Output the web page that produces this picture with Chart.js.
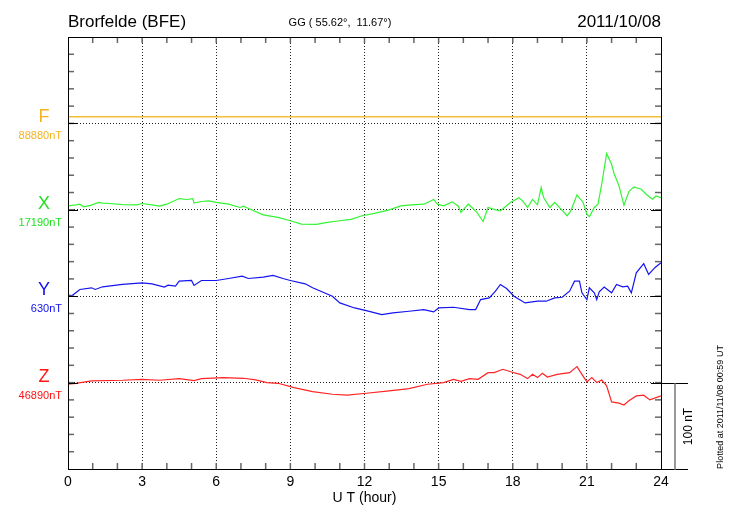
<!DOCTYPE html>
<html>
<head>
<meta charset="utf-8">
<script src="https://cdn.jsdelivr.net/npm/chart.js@4/dist/chart.umd.min.js"></script>
<style>
  html, body { margin: 0; padding: 0; background: #fff; }
</style>
</head>
<body>
<canvas id="chart" width="730" height="520"></canvas>
<script>
// 성분 이름, 기준값, 그래프 위 기준선 위치(nT, 100 nT 간격)
const components = ['F', 'X', 'Y', 'Z'];
const baseLabels = ['88880nT', '17190nT', '630nT', '46890nT'];
const baseLevels = [400, 300, 200, 100];
const hourTicks = [0, 3, 6, 9, 12, 15, 18, 21, 24];

// 기준값에서의 편차 (nT)
const fHours = [0, 24];
const fNt = [7.8, 7.8];

const xHours = [0, 0.33, 0.48, 0.63, 0.94, 1.25, 1.4, 1.7, 2.2, 2.8, 3, 3.4, 3.7, 4.0, 4.5, 4.8, 5.05, 5.1, 5.4, 5.7,
  6, 6.5, 6.96, 7.1, 7.4, 7.9, 8.5, 9, 9.45, 10.06, 10.5, 11, 11.45, 11.9, 12.4, 13, 13.46, 13.9, 14.4, 14.8,
  14.95, 15.2, 15.55, 15.8, 15.9, 16.2, 16.35, 16.55, 16.8, 17, 17.35, 17.5, 17.9, 18.25, 18.4, 18.6, 18.8, 19, 19.15, 19.25,
  19.5, 19.7, 19.95, 20.2, 20.35, 20.6, 20.85, 21, 21.1, 21.3, 21.45, 21.6, 21.8, 22, 22.1, 22.3, 22.5, 22.7, 22.9, 23.2,
  23.4, 23.65, 23.8, 24];
const xNt = [4.6, 5.8, 6.5, 3.5, 5.4, 8.5, 7.7, 7.3, 6, 5.8, 7.3, 5.8, 4.2, 6.5, 13, 11.9, 13, 7.7, 9.6, 10.4,
  8.5, 6.5, 2.7, 4.2, 0.4, -5.8, -8.8, -12.7, -16.5, -16.9, -14.6, -12.7, -11, -6.9, -4.2, 0, 4.6, 5.8, 6.5, 12,
  6.5, 4.6, 9.2, 4.2, -3, 6.5, 2.7, -3, -13.5, 2.7, -0.4, -1.2, 8.5, 14, 10.4, 2.7, 12, 5.8, 25.8, 14.2,
  2.7, 8.5, 0.8, -6.9, -1.2, 17.3, 8.5, -5, -8, 2.7, 6.5, 29.6, 65, 52.7, 42, 27.7, 5.4, 21, 26.5, 23.8,
  18, 12.3, 16, 14];

const yHours = [0, 0.17, 0.48, 0.95, 1.1, 1.4, 2.2, 3, 3.4, 3.9, 4.05, 4.35, 4.5, 5, 5.1, 5.4, 6, 6.5, 7.05, 7.3,
  7.9, 8.3, 8.7, 9, 9.6, 9.9, 10.7, 11, 11.6, 12.07, 12.7, 13.15, 13.8, 14.4, 14.8, 15, 15.6, 16.25, 16.5, 16.7,
  17.05, 17.3, 17.5, 17.75, 18.05, 18.5, 19, 19.35, 19.7, 20, 20.3, 20.5, 20.7, 20.8, 21, 21.1, 21.3, 21.4, 21.5, 21.7,
  22, 22.2, 22.45, 22.65, 22.8, 23, 23.3, 23.5, 23.75, 24];
const yNt = [1.2, 0.8, 7.8, 9.7, 7.8, 10.9, 13.6, 15.5, 14.3, 10.5, 12.8, 11.6, 17.4, 18.2, 12.4, 18.2, 18.2, 20.5, 23.3, 20.5,
  22, 24, 20.5, 18.2, 14.3, 9.7, 0, -7.8, -13.6, -16.7, -21.3, -19.4, -17.4, -15.5, -18.2, -13.6, -12.8, -15.5, -15.5, -3.9,
  -1.9, 5.8, 13.6, 8.9, 0, -7.8, -5.8, -5.8, -1.9, -1.2, 5.8, 17.4, 17.4, 3.9, -3.9, 9.7, 3.9, -3.9, 5, 10.5,
  3.9, 13.6, 10.9, 11.6, 3.9, 27, 37.6, 25.2, 33, 38.8];

const zHours = [0, 0.32, 0.95, 2.2, 3, 3.7, 4.5, 5.1, 5.4, 6.3, 7.1, 7.6, 8.05, 8.5, 9.15, 9.9, 10.7, 11.3, 12.07, 13,
  13.8, 14.55, 15.2, 15.6, 15.9, 16.25, 16.6, 17, 17.25, 17.6, 17.95, 18.3, 18.6, 18.8, 19, 19.2, 19.4, 19.8, 20.3, 20.6,
  20.8, 21, 21.2, 21.4, 21.6, 21.8, 22, 22.3, 22.5, 22.7, 23, 23.3, 23.55, 24];
const zNt = [-1.9, -0.8, 1.9, 2.7, 3.8, 2.7, 4.6, 2.3, 4.6, 5.8, 5, 3.1, 0, -0.8, -5.8, -10.4, -13.5, -14.6, -12.3, -9.6,
  -6.9, -1.9, 0, 3.8, 1.5, 4.6, 3.8, 11.5, 11.5, 15.4, 12.3, 9.6, 4.6, 9.6, 5.8, 10.8, 6.5, 9.6, 11.5, 18.5,
  9.6, 0.8, 5.8, 0, 3, -3.8, -22.3, -23.8, -26, -21, -15.4, -14.6, -20, -15.4];

const lineColors = ['#F3BE3A', '#33F533', '#1414F0', '#FF2424'];
const textColors = ['#F5B21E', '#22E022', '#1010F0', '#FF1414'];
const FONT = '"Liberation Sans", Arial, Helvetica, sans-serif';

function toPoints(hours, nt, base) {
  return hours.map((h, i) => ({ x: h, y: base + nt[i] }));
}

// 테두리, 눈금, 글자
const framePlugin = {
  id: 'frame',
  afterDraw(chart) {
    const { ctx, chartArea: a, scales: { x, y } } = chart;
    ctx.save();
    const seg = (x1, y1, x2, y2) => { ctx.beginPath(); ctx.moveTo(x1, y1); ctx.lineTo(x2, y2); ctx.stroke(); };

    // 안쪽 작은 눈금
    ctx.strokeStyle = '#666';
    ctx.lineWidth = 1.5;
    for (let h = 1; h < 24; h++) {
      const px = x.getPixelForValue(h);
      seg(px, a.bottom, px, a.bottom - 6);
      seg(px, a.top, px, a.top + 6);
    }
    for (let v = 20; v < 500; v += 20) {
      const py = y.getPixelForValue(v);
      seg(a.left, py, a.left + 6, py);
      seg(a.right, py, a.right - 6, py);
    }
    ctx.strokeStyle = '#000';
    ctx.lineWidth = 1;
    baseLevels.forEach(v => {
      const py = Math.round(y.getPixelForValue(v)) + 0.5;
      seg(a.left, py, a.left + 10, py);
      seg(a.right, py, a.right - 10, py);
    });
    ctx.strokeRect(Math.round(a.left) + 0.5, Math.round(a.top) + 0.5, Math.round(a.width), Math.round(a.height));

    // 100 nT 스케일
    const zTop = Math.round(y.getPixelForValue(100)) + 0.5;
    const bot = Math.round(y.getPixelForValue(0)) + 0.5;
    seg(a.right, zTop, a.right + 27, zTop);
    seg(a.right, bot, a.right + 27, bot);
    ctx.strokeStyle = '#999';
    ctx.lineWidth = 2;
    seg(a.right + 14, zTop, a.right + 14, bot);

    // 제목
    ctx.fillStyle = '#000';
    ctx.textBaseline = 'alphabetic';
    ctx.font = '17px ' + FONT;
    ctx.textAlign = 'left';
    ctx.fillText('Brorfelde (BFE)', a.left, 27);
    ctx.textAlign = 'right';
    ctx.fillText('2011/10/08', a.right, 27);
    ctx.font = '11px ' + FONT;
    ctx.textAlign = 'center';
    ctx.fillText('GG ( 55.62°,  11.67°)', 340, 26);

    // 왼쪽 성분 이름
    components.forEach((c, i) => {
      const py = y.getPixelForValue(baseLevels[i]);
      ctx.fillStyle = textColors[i];
      ctx.textBaseline = 'middle';
      ctx.textAlign = 'center';
      ctx.font = '18px ' + FONT;
      ctx.fillText(c, 44, py - 6);
      ctx.textAlign = 'right';
      ctx.font = '11px ' + FONT;
      ctx.fillText(baseLabels[i], 62, py + 13);
    });

    // 오른쪽 세로 글자
    ctx.fillStyle = '#000';
    ctx.save();
    ctx.translate(a.right + 28, (zTop + bot) / 2);
    ctx.rotate(-Math.PI / 2);
    ctx.textAlign = 'center';
    ctx.textBaseline = 'middle';
    ctx.font = '12px ' + FONT;
    ctx.fillText('100 nT', 0, 0);
    ctx.restore();
    ctx.save();
    ctx.translate(721, 407);
    ctx.rotate(-Math.PI / 2);
    ctx.textAlign = 'center';
    ctx.textBaseline = 'middle';
    ctx.font = '9px ' + FONT;
    ctx.fillText('Plotted at 2011/11/08 00:59 UT', 0, 0);
    ctx.restore();
    ctx.restore();
  }
};

const seriesHours = [fHours, xHours, yHours, zHours];
const seriesNt = [fNt, xNt, yNt, zNt];

new Chart(document.getElementById('chart'), {
  type: 'line',
  data: {
    datasets: components.map((c, i) => ({
      label: c,
      data: toPoints(seriesHours[i], seriesNt[i], baseLevels[i]),
      borderColor: lineColors[i],
      borderWidth: i === 0 ? 1.5 : 1.2,
      pointRadius: 0,
      tension: 0,
      fill: false
    }))
  },
  options: {
    responsive: false,
    animation: false,
    layout: { padding: { left: 68, right: 69, top: 37, bottom: 15 } },
    plugins: { legend: { display: false }, tooltip: { enabled: false } },
    scales: {
      x: {
        type: 'linear',
        min: 0,
        max: 24,
        afterBuildTicks: scale => { scale.ticks = hourTicks.map(v => ({ value: v })); },
        ticks: { color: '#000', font: { size: 14, family: FONT, lineHeight: 1 }, padding: 6, maxRotation: 0 },
        grid: {
          drawTicks: false,
          color: ctx => (ctx.tick && ctx.tick.value > 0 && ctx.tick.value < 24) ? '#222' : 'rgba(0,0,0,0)',
          lineWidth: 1
        },
        border: { display: false, dash: [1, 2] },
        title: { display: true, text: 'U T (hour)', color: '#000', font: { size: 14, family: FONT, lineHeight: 1 }, padding: { top: -4, bottom: 0 } }
      },
      y: {
        min: 0,
        max: 500,
        ticks: { display: false, stepSize: 20 },
        grid: {
          drawTicks: false,
          color: ctx => (ctx.tick && baseLevels.includes(ctx.tick.value)) ? '#222' : 'rgba(0,0,0,0)',
          lineWidth: 1
        },
        border: { display: false, dash: [1, 2] }
      }
    }
  },
  plugins: [framePlugin]
});
</script>
</body>
</html>
